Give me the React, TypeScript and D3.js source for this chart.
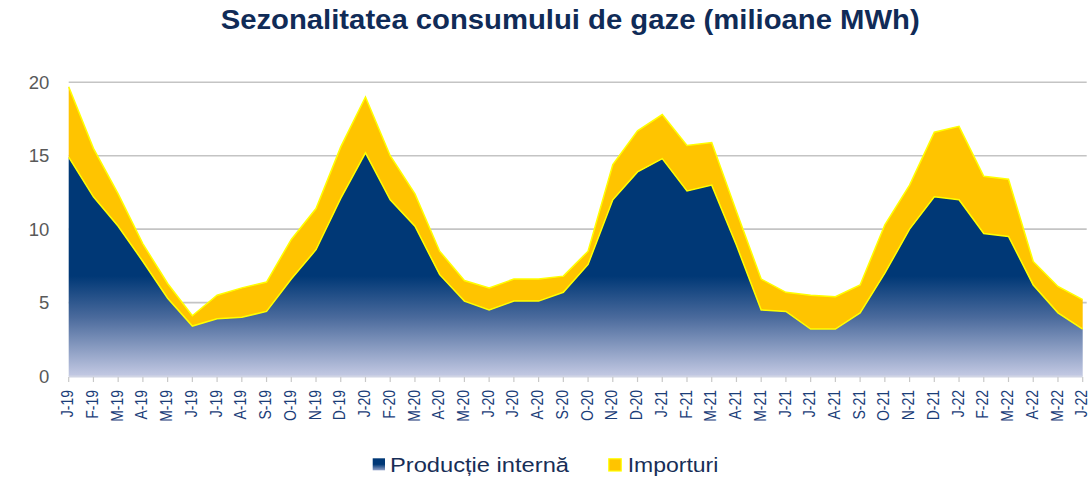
import React from 'react';
import * as d3 from 'd3';

const W = 1089;
const H = 478;
const left = 68.7;
const right = 1082.7;
const top = 82.3;
const bottom = 376;

const months = [
  'J-19', 'F-19', 'M-19', 'A-19', 'M-19', 'J-19', 'J-19', 'A-19', 'S-19', 'O-19', 'N-19', 'D-19',
  'J-20', 'F-20', 'M-20', 'A-20', 'M-20', 'J-20', 'J-20', 'A-20', 'S-20', 'O-20', 'N-20', 'D-20',
  'J-21', 'F-21', 'M-21', 'A-21', 'M-21', 'J-21', 'J-21', 'A-21', 'S-21', 'O-21', 'N-21', 'D-21',
  'J-22', 'F-22', 'M-22', 'A-22', 'M-22', 'J-22',
];

// productie interna
const productie = [
  14.9, 12.2, 10.2, 7.8, 5.3, 3.4, 3.9, 4.0, 4.4, 6.6, 8.6, 12.1,
  15.2, 12.0, 10.2, 6.9, 5.1, 4.5, 5.1, 5.1, 5.7, 7.6, 12.0, 13.9,
  14.8, 12.6, 13.0, 8.9, 4.5, 4.4, 3.2, 3.2, 4.3, 7.0, 10.0, 12.2,
  12.0, 9.7, 9.5, 6.2, 4.3, 3.2,
];

// importuri
const importuri = [
  4.8, 3.3, 2.2, 1.2, 1.0, 0.7, 1.6, 2.0, 2.0, 2.7, 2.8, 3.5,
  3.8, 3.0, 2.2, 1.6, 1.4, 1.5, 1.5, 1.5, 1.1, 0.9, 2.4, 2.8,
  3.0, 3.1, 2.9, 2.3, 2.1, 1.3, 2.3, 2.2, 1.9, 3.3, 3.0, 4.4,
  5.0, 3.9, 3.9, 1.6, 1.8, 2.0,
];

const yTicks = [0, 5, 10, 15, 20];

const font = '"Liberation Sans", Arial, sans-serif';

export default function App() {
  const x = d3.scaleLinear().domain([0, months.length - 1]).range([left, right]);
  const y = d3.scaleLinear().domain([0, 20]).range([bottom, top]);

  const rows = months.map((m, i) => ({
    i,
    p: productie[i],
    t: productie[i] + importuri[i],
  }));

  const prodArea = d3.area<any>().x(d => x(d.i)).y0(y(0)).y1(d => y(d.p));
  const impArea = d3.area<any>().x(d => x(d.i)).y0(d => y(d.p)).y1(d => y(d.t));
  const prodLine = d3.line<any>().x(d => x(d.i)).y(d => y(d.p));
  const totLine = d3.line<any>().x(d => x(d.i)).y(d => y(d.t));

  return (
    <div style={{ position: 'absolute', left: 0, top: 0 }}>
      <svg width={W} height={H} viewBox={`0 0 ${W} ${H}`} style={{ display: 'block', fontFamily: font }}>
        <defs>
          <linearGradient id="prodGrad" gradientUnits="userSpaceOnUse" x1="0" y1={top} x2="0" y2={bottom}>
            <stop offset="0" stopColor="#003876" />
            <stop offset="0.66" stopColor="#003876" />
            <stop offset="0.8" stopColor="#4a6a9c" />
            <stop offset="1" stopColor="#c3c9e3" />
          </linearGradient>
          <linearGradient id="legGrad" x1="0" y1="0" x2="0" y2="1">
            <stop offset="0" stopColor="#003876" />
            <stop offset="0.5" stopColor="#003876" />
            <stop offset="1" stopColor="#8fa0c8" />
          </linearGradient>
        </defs>

        <text x={220.7} y={29.3} fontSize={27} fontWeight="bold" fill="#102b57"
          textLength={699} lengthAdjust="spacingAndGlyphs">
          Sezonalitatea consumului de gaze (milioane MWh)
        </text>

        {yTicks.map(t => (
          <g key={t}>
            {t > 0 && (
              <line x1={left} x2={right + 4} y1={y(t)} y2={y(t)} stroke="#c4c4c4" strokeWidth={1.6} />
            )}
            <text x={49.3} y={y(t) + 6.5} textAnchor="end" fontSize={18.5} fill="#595959">{t}</text>
          </g>
        ))}

        <path d={prodArea(rows) || ''} fill="url(#prodGrad)" />
        <path d={impArea(rows) || ''} fill="#ffc400" />
        <path d={totLine(rows) || ''} fill="none" stroke="#ffff00" strokeWidth={1.5} />
        <path d={prodLine(rows) || ''} fill="none" stroke="#ffff00" strokeWidth={1.5} />

        <line x1={left} x2={right} y1={bottom + 0.5} y2={bottom + 0.5} stroke="#d0d4e4" strokeWidth={2} />

        {months.map((m, i) => (
          <g key={i}>
            <line x1={x(i)} x2={x(i)} y1={bottom + 1} y2={bottom + 6} stroke="#c8c8c8" strokeWidth={1.2} />
            <text
              transform={`translate(${x(i) + 4.6},${390}) rotate(-90) scale(1,1.17)`}
              textAnchor="end"
              fontSize={14}
              fill="#1b3d78"
            >
              {m}
            </text>
          </g>
        ))}

        <rect x={372.7} y={458.3} width={12.3} height={12} fill="url(#legGrad)" />
        <text x={390} y={471.7} fontSize={20.5} fill="#172e57" textLength={179} lengthAdjust="spacingAndGlyphs">
          Producție internă
        </text>
        <rect x={608.8} y={458.8} width={12.4} height={12.2} fill="#ffc400" stroke="#ffff00" strokeWidth={1.2} />
        <text x={627.7} y={471.7} fontSize={20.5} fill="#172e57" textLength={90.6} lengthAdjust="spacingAndGlyphs">
          Importuri
        </text>
      </svg>
    </div>
  );
}
